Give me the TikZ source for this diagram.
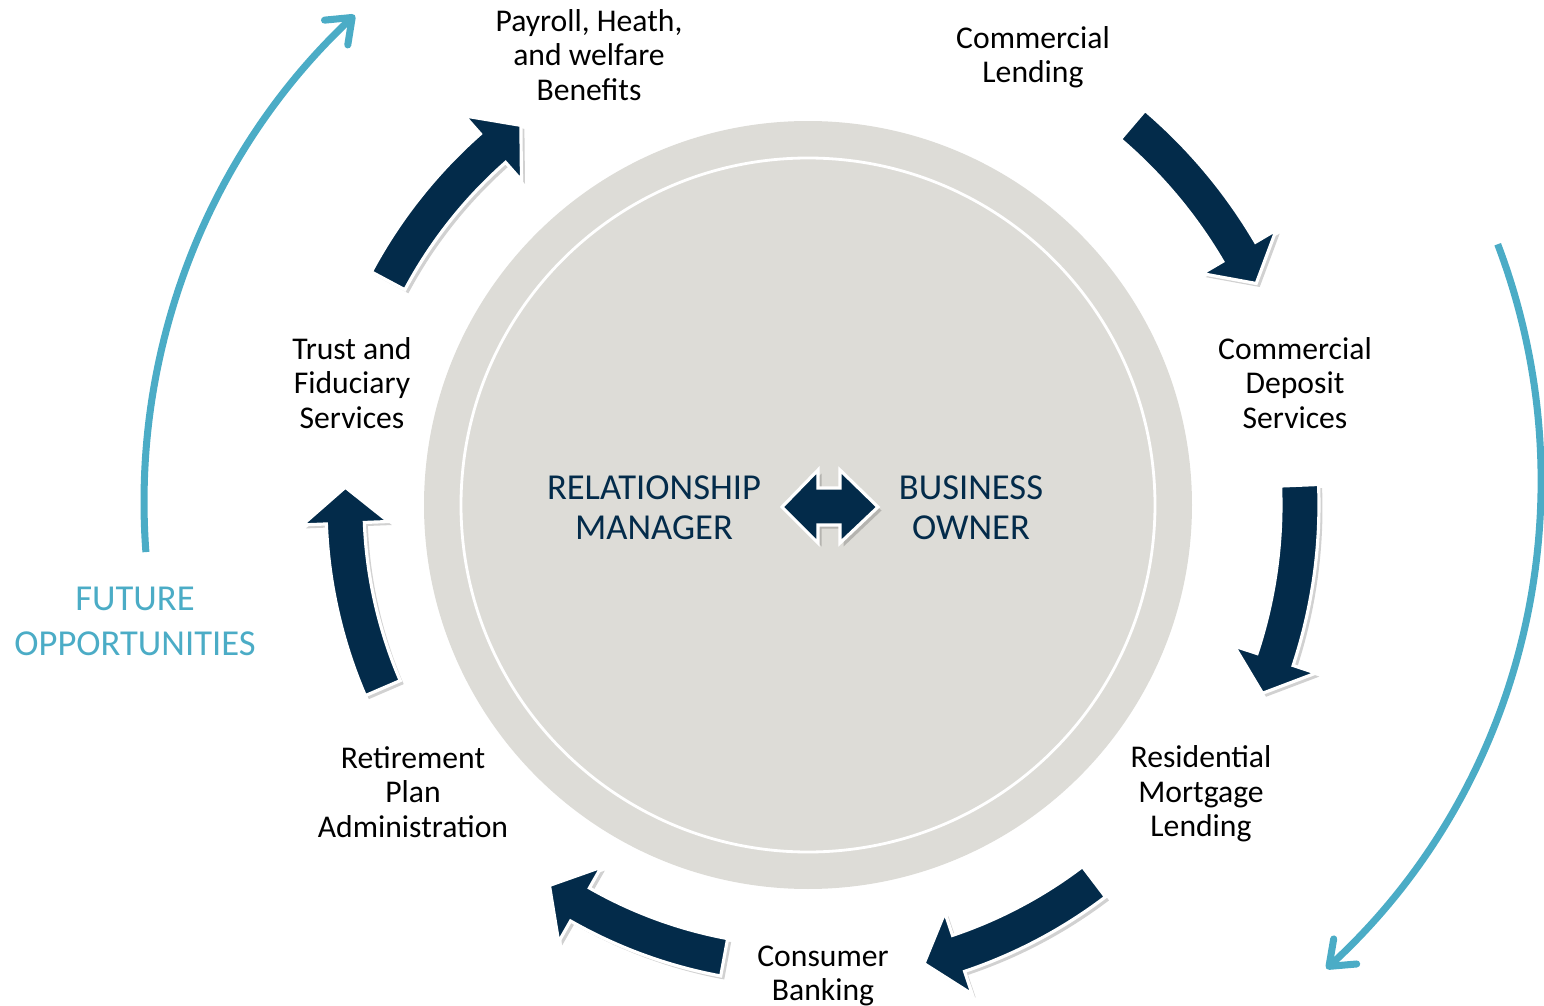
\documentclass[tikz,border=0pt]{standalone}
\usepackage{fontspec}
\setmainfont{Carlito}
\usetikzlibrary{arrows.meta,shadows}

\definecolor{navy}{HTML}{032B4A}
\definecolor{oppteal}{HTML}{4BACC6}
\definecolor{ringgray}{HTML}{DDDCD7}

% curved band arrow round the hub: radius, tail angle, tip angle
\newcommand{\cyclearrow}[3]{%
  \pgfmathsetmacro{\hb}{#3-36/#1*57.2958}
  \pgfmathsetmacro{\ro}{#1+19}
  \pgfmathsetmacro{\ri}{#1-19}
  \pgfmathsetmacro{\hro}{#1+43}
  \pgfmathsetmacro{\hri}{#1-43}
  \path[band] (#2:\ro) arc[start angle=#2, end angle=\hb, radius=\ro]
    -- (\hb:\hro) -- (#3:#1) -- (\hb:\hri) -- (\hb:\ri)
    arc[start angle=\hb, end angle=#2, radius=\ri] -- cycle;
}

\begin{document}
\begin{tikzpicture}[x=0.01cm, y=-0.01cm]
  \tikzset{
    band/.style={fill=navy, draw=white, line width=0.9pt, line join=miter,
      drop shadow={shadow xshift=1pt, shadow yshift=-1pt, opacity=.18, fill=black}},
    service/.style={align=center, inner sep=0pt, font=\fontsize{9}{9.8}\selectfont},
    partner/.style={align=center, inner sep=0pt, text=navy, font=\fontsize{10.4}{11.4}\selectfont},
    future/.style={align=center, inner sep=0pt, text=oppteal, font=\fontsize{10.4}{12.8}\selectfont},
    opparrow/.style={oppteal, line width=2pt, -{Straight Barb[length=2.2mm, width=3.4mm, round]}}
  }
  \useasboundingbox (0,0) rectangle (1544,1006);

  % hub
  \coordinate (hub) at (808,505);
  \fill[ringgray] (hub) circle[radius=384];
  \draw[white, line width=0.8pt] (hub) circle[radius=347];

  % ring of services
  \begin{scope}[shift={(808,505)}]
    \cyclearrow{476}{-151.9}{-127.1}
    \cyclearrow{500}{-49.5}{-26.3}
    \cyclearrow{492}{-2.3}{22.5}
    \cyclearrow{473}{52.8}{75.8}
    \cyclearrow{460}{100.5}{124.2}
    \cyclearrow{463}{156.7}{182.2}
  \end{scope}

  % two-way link in the middle
  \path[band] (782,507) -- (818,470) -- (818,488) -- (840,488) -- (840,470)
    -- (878,507) -- (840,543) -- (840,525) -- (818,525) -- (818,543) -- cycle;

  \node[partner] (rm) at (654,508) {RELATIONSHIP\\MANAGER};
  \node[partner] (bo) at (971,508) {BUSINESS\\OWNER};

  \node[service] (payroll) at (589,55) {Payroll, Heath,\\and welfare\\Benefits};
  \node[service] (lending) at (1033,57) {Commercial\\Lending};
  \node[service] (deposit) at (1295,383) {Commercial\\Deposit\\Services};
  \node[service] (mortgage) at (1201,794) {Residential\\Mortgage\\Lending};
  \node[service] (consumer) at (823,976) {Consumer\\Banking};
  \node[service] (retire) at (413,792) {Retirement\\Plan\\Administration};
  \node[service] (trust) at (352,383) {Trust and\\Fiduciary\\Services};

  \node[future] (future) at (135,621) {FUTURE\\OPPORTUNITIES};

  % future opportunities sweep
  \coordinate (up-start) at ([shift={(175.7:668)}]812,502);
  \coordinate (down-start) at ([shift={(-20.8:664)}]877,480);
  \draw[opparrow] (up-start) arc[start angle=175.7, end angle=226.8, radius=668];
  \draw[opparrow] (down-start) arc[start angle=-20.8, end angle=47.4, radius=664];
\end{tikzpicture}
\end{document}
